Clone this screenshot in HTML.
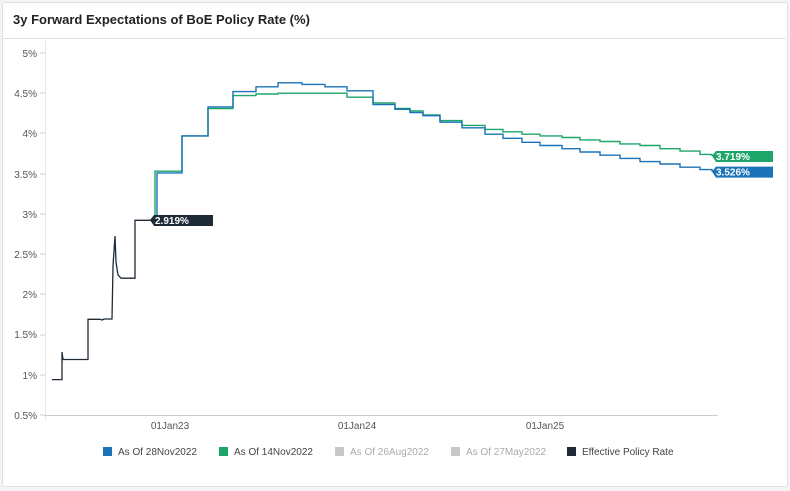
<!DOCTYPE html><html><head><style>
body{margin:0;background:#f3f4f6;font-family:"Liberation Sans",sans-serif}
.card{position:absolute;left:2px;top:2px;width:784px;height:483px;background:#fff;border:1px solid #dcdfe3;border-radius:3px}
</style></head><body><div class="card"></div>
<svg width="790" height="491" style="position:absolute;left:0;top:0" font-family="Liberation Sans, sans-serif">
<text x="13" y="24" font-size="13" font-weight="bold" fill="#222">3y Forward Expectations of BoE Policy Rate (%)</text>
<line x1="3" y1="38.5" x2="786" y2="38.5" stroke="#dcdfe3"/>
<line x1="45.5" y1="40" x2="45.5" y2="420" stroke="#e6e6e6"/>
<g font-size="10" fill="#555" text-anchor="end">
<text x="37" y="57">5%</text><text x="37" y="97">4.5%</text><text x="37" y="137">4%</text><text x="37" y="178">3.5%</text><text x="37" y="218">3%</text><text x="37" y="258">2.5%</text><text x="37" y="298">2%</text><text x="37" y="338">1.5%</text><text x="37" y="379">1%</text><text x="37" y="419">0.5%</text>
</g>
<g stroke="#ccc"><line x1="40" y1="53" x2="45" y2="53"/><line x1="40" y1="93" x2="45" y2="93"/><line x1="40" y1="133" x2="45" y2="133"/><line x1="40" y1="174" x2="45" y2="174"/><line x1="40" y1="214" x2="45" y2="214"/><line x1="40" y1="254" x2="45" y2="254"/><line x1="40" y1="294" x2="45" y2="294"/><line x1="40" y1="335" x2="45" y2="335"/><line x1="40" y1="375" x2="45" y2="375"/><line x1="40" y1="415" x2="45" y2="415"/></g>
<line x1="45" y1="415.5" x2="718" y2="415.5" stroke="#ccc"/>
<g font-size="10" fill="#555" text-anchor="middle"><text x="170" y="429">01Jan23</text><text x="357" y="429">01Jan24</text><text x="545" y="429">01Jan25</text></g>
<path fill="none" stroke="#1ea66a" stroke-width="1.4" d="M155 220.3V171.2H182V135.9H208V108.5H233V95.6H256V94H278V93.2H347V97.2H373V102.9H395V108.5H410V110.9H423V114.9H440V120.6H462V125.4H485V129.4H503V131.8H522V134.2H540V135.9H562V137.5H580V139.9H600V141.5H620V143.9H640V145.5H660V148.7H680V151.1H700V154.4H712V156"/>
<path fill="none" stroke="#1a73b8" stroke-width="1.4" d="M157 220.3V172.9H182V135.9H208V106.9H233V91.6H256V86.8H278V82.8H302V84.4H325V86.8H347V90.8H373V104.5H395V109.3H410V112.5H423V115.7H440V122.2H462V127.8H485V134.2H503V138.3H522V142.3H540V145.5H562V148.7H580V152H600V155.2H620V158.4H640V161.6H660V164H680V167.2H700V169.6H712V171.6"/>
<path fill="none" stroke="#1e2a36" stroke-width="1.3" d="M52 379.6H62V352L63 359.5H88V319.3H100L102 320L104 319H112L113 266L115 236L116 262L118 275L121 278.2H135V220.3H155"/>
<path d="M712 156l4-5h57v11h-57z" fill="#1ea66a"/><text x="716" y="160" font-size="10" fill="#fff" font-weight="bold">3.719%</text>
<path d="M712 171.6l4-5h57v11h-57z" fill="#1a73b8"/><text x="716" y="175.6" font-size="10" fill="#fff" font-weight="bold">3.526%</text>
<path d="M150 220l4-5h59v11h-59z" fill="#1e2a36"/><text x="155" y="224" font-size="10" fill="#fff" font-weight="bold">2.919%</text>
<g font-size="10" fill="#444">
<rect x="103" y="447" width="9" height="9" fill="#1a73b8"/><text x="118" y="455">As Of 28Nov2022</text>
<rect x="219" y="447" width="9" height="9" fill="#1ea66a"/><text x="234" y="455">As Of 14Nov2022</text>
<rect x="335" y="447" width="9" height="9" fill="#c8c8c8"/><text x="350" y="455" fill="#aaa">As Of 26Aug2022</text>
<rect x="451" y="447" width="9" height="9" fill="#c8c8c8"/><text x="466" y="455" fill="#aaa">As Of 27May2022</text>
<rect x="567" y="447" width="9" height="9" fill="#1e2a36"/><text x="582" y="455">Effective Policy Rate</text>
</g></svg></body></html>
